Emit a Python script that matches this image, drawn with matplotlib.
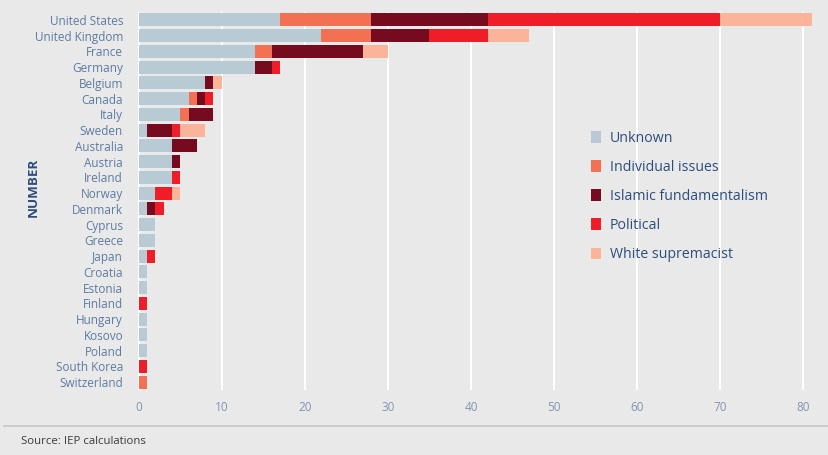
import numpy as np
from matplotlib import pyplot as plt
from matplotlib.patches import Patch

# ---- data (counts per country, by ideology) ----
countries = ['United States', 'United Kingdom', 'France', 'Germany', 'Belgium', 'Canada',
             'Italy', 'Sweden', 'Australia', 'Austria', 'Ireland', 'Norway', 'Denmark',
             'Cyprus', 'Greece', 'Japan', 'Croatia', 'Estonia', 'Finland', 'Hungary',
             'Kosovo', 'Poland', 'South Korea', 'Switzerland']
unknown    = [17, 22, 14, 14, 8, 6, 5, 1, 4, 4, 4, 2, 1, 2, 2, 1, 1, 1, 0, 1, 1, 1, 0, 0]
individual = [11, 6, 2, 0, 0, 1, 1, 0, 0, 0, 0, 0, 0, 0, 0, 0, 0, 0, 0, 0, 0, 0, 0, 1]
islamic    = [14, 7, 11, 2, 1, 1, 3, 3, 3, 1, 0, 0, 1, 0, 0, 0, 0, 0, 0, 0, 0, 0, 0, 0]
political  = [28, 7, 0, 1, 0, 1, 0, 1, 0, 0, 1, 2, 1, 0, 0, 1, 0, 0, 1, 0, 0, 0, 1, 0]
white_sup  = [11, 5, 3, 0, 1, 0, 0, 3, 0, 0, 0, 1, 0, 0, 0, 0, 0, 0, 0, 0, 0, 0, 0, 0]

series = [('Unknown', unknown, '#b8cad4'),
          ('Individual issues', individual, '#f37052'),
          ('Islamic fundamentalism', islamic, '#760b1f'),
          ('Political', political, '#ee1d27'),
          ('White supremacist', white_sup, '#fbb39a')]

BG = '#e9e9e9'
LABEL_C = '#5b7ba3'
TICK_C = '#8096b0'
LEGEND_C = '#2b4d7e'

plt.rcParams['font.family'] = ['Open Sans', 'DejaVu Sans']

fig = plt.figure(figsize=(8.29, 4.55), dpi=100, facecolor=BG)
ax = fig.add_axes([137 / 829, 1 - 390 / 455, (820 - 137) / 829, (390 - 12) / 455])
ax.set_facecolor(BG)

y = np.arange(len(countries))
left = np.zeros(len(countries))
for name, vals, col in series:
    vals = np.array(vals, dtype=float)
    ax.barh(y, vals, left=left, height=0.82, color=col, zorder=3, label=name)
    left += vals

ax.set_ylim(len(countries) - 0.5, -0.5)
ax.set_xlim(-0.2, 82)
ax.set_xticks(np.arange(0, 81, 10))
ax.set_yticks(y)
ax.set_yticklabels(countries)
ax.grid(axis='x', color='white', linewidth=1.5, zorder=0)
ax.grid(axis='y', visible=False)
for s in ax.spines.values():
    s.set_visible(False)
ax.tick_params(axis='y', length=0, pad=10, labelsize=8.5, labelcolor=LABEL_C)
ax.tick_params(axis='x', length=0, pad=8, labelsize=8.5, labelcolor=TICK_C)

fig.text(33 / 829, 1 - 187 / 455, 'NUMBER', rotation=90, ha='center', va='center',
         fontsize=9.6, fontweight='bold', color=LEGEND_C)

handles = [Patch(facecolor=c, edgecolor='none', label=n) for n, _, c in series]
leg = fig.legend(handles=handles, loc='upper left', bbox_to_anchor=(578 / 829, 1 - 118 / 455),
                 frameon=False, fontsize=10.2, labelspacing=1.0, handlelength=0.75,
                 handleheight=0.9, handletextpad=0.6)
for t in leg.get_texts():
    t.set_color(LEGEND_C)

fig.add_artist(plt.Line2D([4 / 829, 1], [1 - 426 / 455] * 2, color='#c6c6c6', linewidth=1.2))
fig.text(21 / 829, 1 - 441 / 455, 'Source: IEP calculations', ha='left', va='center',
         fontsize=8.2, color='#3a3a3a')

fig.savefig('out.png', dpi=100, facecolor=BG)
